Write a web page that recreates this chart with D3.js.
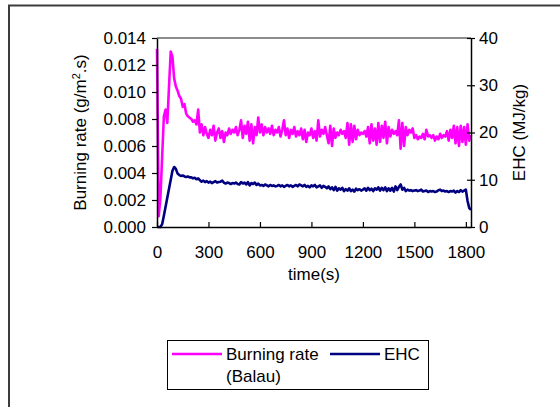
<!DOCTYPE html>
<html>
<head>
<meta charset="utf-8">
<script src="https://cdn.jsdelivr.net/npm/d3@7"></script>
<style>
  body { margin: 0; background: #fff; }
  svg text { font-family: "Liberation Sans", Arial, sans-serif; fill: #000; }
</style>
</head>
<body>
<svg id="chart" width="560" height="407"></svg>
<script>
// sampled every 10 s, t = 0 .. 1830
var timeStep = 10;
var burningRate = [
  0.0132, 0.0008, 0.0022, 0.0052, 0.0082, 0.0087, 0.0077, 0.0104, 0.0130, 0.0126,
  0.0110, 0.0104, 0.0101, 0.0097, 0.0095, 0.0089, 0.0091, 0.0084, 0.0082, 0.0081,
  0.0080, 0.0078, 0.0079, 0.0076, 0.0087, 0.0070, 0.0076, 0.0068, 0.0074, 0.0069,
  0.0066, 0.0072, 0.0068, 0.0075, 0.0064, 0.0070, 0.0073, 0.0066, 0.0071, 0.0063,
  0.0070, 0.0068, 0.0073, 0.0069, 0.0072, 0.0070, 0.0074, 0.0068, 0.0072, 0.0079,
  0.0066, 0.0075, 0.0069, 0.0078, 0.0064, 0.0076, 0.0062, 0.0074, 0.0068, 0.0081,
  0.0070, 0.0076, 0.0068, 0.0074, 0.0070, 0.0073, 0.0069, 0.0075, 0.0068, 0.0072,
  0.0070, 0.0074, 0.0067, 0.0072, 0.0079, 0.0068, 0.0073, 0.0066, 0.0072, 0.0069,
  0.0074, 0.0067, 0.0071, 0.0068, 0.0073, 0.0065, 0.0072, 0.0063, 0.0070, 0.0068,
  0.0073, 0.0066, 0.0071, 0.0064, 0.0079, 0.0067, 0.0072, 0.0069, 0.0074, 0.0068,
  0.0062, 0.0075, 0.0060, 0.0073, 0.0066, 0.0070, 0.0068, 0.0072, 0.0069, 0.0071,
  0.0066, 0.0077, 0.0061, 0.0076, 0.0063, 0.0075, 0.0065, 0.0072, 0.0068, 0.0070,
  0.0069, 0.0071, 0.0067, 0.0074, 0.0062, 0.0076, 0.0064, 0.0073, 0.0061, 0.0077,
  0.0063, 0.0075, 0.0066, 0.0078, 0.0062, 0.0074, 0.0067, 0.0072, 0.0069, 0.0071,
  0.0068, 0.0079, 0.0058, 0.0077, 0.0060, 0.0074, 0.0068, 0.0072, 0.0070, 0.0073,
  0.0066, 0.0068, 0.0065, 0.0067, 0.0066, 0.0069, 0.0065, 0.0072, 0.0067, 0.0068,
  0.0066, 0.0068, 0.0064, 0.0067, 0.0065, 0.0069, 0.0066, 0.0068, 0.0067, 0.0071,
  0.0064, 0.0072, 0.0066, 0.0075, 0.0062, 0.0074, 0.0060, 0.0075, 0.0063, 0.0074,
  0.0061, 0.0076, 0.0064, 0.0068
];
var ehc = [
  0, 0, 0, 0.6, 2.4, 4.3, 6.2, 8.1, 10.0, 11.9,
  12.7, 12.3, 11.3, 11.0, 10.8, 10.9, 10.7, 10.6, 10.7, 10.5,
  10.5, 10.3, 10.4, 10.1, 10.3, 9.9, 9.6, 9.8, 9.5, 9.7,
  9.4, 9.6, 9.3, 9.5, 9.7, 9.4, 9.5, 9.6, 9.8, 9.4,
  9.2, 9.4, 9.3, 9.1, 9.3, 9.2, 9.4, 9.1, 9.0, 9.5,
  9.2, 9.4, 9.0, 9.5, 8.8, 9.3, 9.1, 9.4, 8.9, 9.2,
  8.8, 8.9, 8.7, 9.0, 8.8, 8.6, 8.9, 8.7, 8.8, 8.6,
  8.7, 8.9, 8.6, 8.8, 8.5, 8.7, 8.9, 8.6, 8.8, 8.5,
  8.7, 8.9, 8.6, 9.0, 8.8, 8.6, 8.9, 8.5, 8.7, 8.4,
  8.8, 8.6, 8.9, 8.4, 8.6, 8.8, 8.3, 8.7, 8.5, 8.2,
  8.6, 8.0, 8.4, 7.8, 8.5, 7.7, 8.2, 7.9, 8.3, 7.6,
  8.0, 7.7, 8.2, 7.6, 7.9, 7.5, 8.1, 7.8, 8.0, 7.7,
  7.9, 8.2, 7.7, 8.3, 7.8, 8.1, 7.6, 8.2, 7.9, 8.4,
  7.7, 8.3, 7.8, 8.4, 7.6, 8.2, 7.7, 8.3, 7.5, 8.6,
  7.8, 8.5, 9.0, 7.9, 8.3, 7.6, 7.9, 7.7, 7.8, 7.6,
  7.7, 7.8, 7.6, 7.7, 7.9, 7.5, 7.6, 7.7, 7.4, 7.6,
  7.5, 7.6, 7.4, 7.5, 7.8, 7.9, 7.6, 7.7, 7.5, 7.6,
  7.4, 7.6, 7.5, 7.7, 7.3, 7.6, 7.4, 7.8, 7.5, 7.7,
  7.9, 5.5, 4.0, 3.6
];
var xTicks = [0, 300, 600, 900, 1200, 1500, 1800];
var leftTicks = [0, 0.002, 0.004, 0.006, 0.008, 0.010, 0.012, 0.014];
var rightTicks = [0, 10, 20, 30, 40];
var legendLabels = ["Burning rate", "(Balau)", "EHC"];

var svg = d3.select("#chart");
var plot = {left: 157, right: 471, top: 38, bottom: 227};

var x = d3.scaleLinear().domain([0, 1830]).range([plot.left, plot.right]);
var yLeft = d3.scaleLinear().domain([0, 0.014]).range([plot.bottom, plot.top]);
var yRight = d3.scaleLinear().domain([0, 40]).range([plot.bottom, plot.top]);

// outer chart border (only left and top show in the crop)
svg.append("path")
    .attr("d", "M9,407V5.5H560")
    .attr("fill", "none")
    .attr("stroke", "#3c3c3c")
    .attr("stroke-width", 2);

// top gridline
svg.append("line")
    .attr("x1", plot.left).attr("x2", plot.right)
    .attr("y1", yLeft(0.014)).attr("y2", yLeft(0.014))
    .attr("stroke", "#8c8c8c")
    .attr("stroke-width", 2);

function drawLine(values, yScale, colour){
    var line = d3.line()
        .x(function(d, i){ return x(i * timeStep); })
        .y(function(d){ return yScale(d); });
    svg.append("path")
        .datum(values)
        .attr("d", line)
        .attr("fill", "none")
        .attr("stroke", colour)
        .attr("stroke-width", 2.6)
        .attr("stroke-linejoin", "round");
}
drawLine(burningRate, yLeft, "#ff00ff");
drawLine(ehc, yRight, "#000080");

function styleAxis(g){
    g.selectAll("path.domain").attr("stroke", "#000").attr("stroke-width", 1.5);
    g.selectAll(".tick line").attr("stroke", "#000").attr("stroke-width", 1.2);
    g.selectAll("text").attr("font-size", 17)
        .attr("font-family", "'Liberation Sans', Arial, sans-serif");
}

var gBottom = svg.append("g")
    .attr("transform", "translate(0," + plot.bottom + ")")
    .call(d3.axisBottom(x).tickValues(xTicks).tickFormat(d3.format("d"))
        .tickSizeInner(-5).tickSizeOuter(0).tickPadding(19));
styleAxis(gBottom);

var gLeft = svg.append("g")
    .attr("transform", "translate(" + plot.left + ",0)")
    .call(d3.axisLeft(yLeft).tickValues(leftTicks).tickFormat(d3.format(".3f"))
        .tickSize(5).tickSizeOuter(0).tickPadding(6));
styleAxis(gLeft);

var gRight = svg.append("g")
    .attr("transform", "translate(" + plot.right + ",0)")
    .call(d3.axisRight(yRight).tickValues(rightTicks).tickSize(4).tickSizeOuter(0).tickPadding(4));
gRight.selectAll(".tick line").attr("x1", -4);
styleAxis(gRight);

// axis titles
var leftTitle = svg.append("text")
    .attr("transform", "translate(86," + (plot.top + plot.bottom) / 2 + ") rotate(-90)")
    .attr("text-anchor", "middle")
    .attr("font-size", 17);
leftTitle.append("tspan").text("Burning rate (g/m");
leftTitle.append("tspan").attr("dy", -6).attr("font-size", 11).text("2");
leftTitle.append("tspan").attr("dy", 6).text(".s)");

svg.append("text")
    .attr("transform", "translate(525," + (plot.top + plot.bottom) / 2 + ") rotate(-90)")
    .attr("text-anchor", "middle")
    .attr("font-size", 17)
    .text("EHC (MJ/kg)");

svg.append("text")
    .attr("x", (plot.left + plot.right) / 2)
    .attr("y", 280)
    .attr("text-anchor", "middle")
    .attr("font-size", 17)
    .text("time(s)");

// legend
var legend = svg.append("g");
legend.append("rect")
    .attr("x", 167.5).attr("y", 340.5)
    .attr("width", 261).attr("height", 49)
    .attr("fill", "#fff")
    .attr("stroke", "#000")
    .attr("stroke-width", 1);
legend.append("line")
    .attr("x1", 172).attr("x2", 222).attr("y1", 354).attr("y2", 354)
    .attr("stroke", "#ff00ff").attr("stroke-width", 2.4);
legend.append("line")
    .attr("x1", 330).attr("x2", 380).attr("y1", 354).attr("y2", 354)
    .attr("stroke", "#000080").attr("stroke-width", 2.4);
legend.append("text").attr("x", 226).attr("y", 360).attr("font-size", 17).text(legendLabels[0]);
legend.append("text").attr("x", 226).attr("y", 382).attr("font-size", 17).text(legendLabels[1]);
legend.append("text").attr("x", 384).attr("y", 360).attr("font-size", 17).text(legendLabels[2]);
</script>
</body>
</html>
